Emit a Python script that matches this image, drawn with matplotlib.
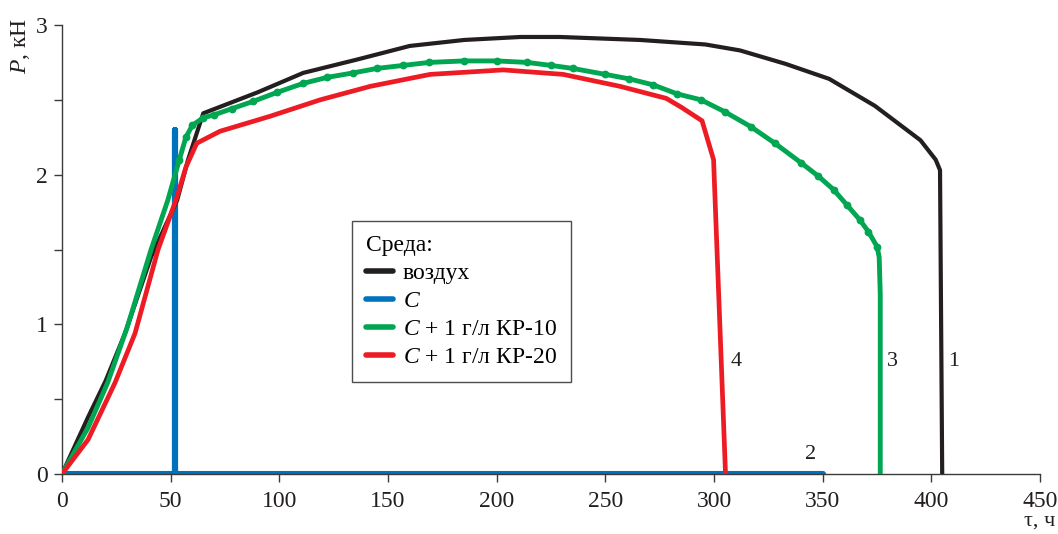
import matplotlib
matplotlib.use("Agg")
import matplotlib.pyplot as plt
from matplotlib.ticker import MultipleLocator

plt.rcParams["font.family"] = ["Liberation Serif", "DejaVu Serif"]
plt.rcParams["mathtext.fontset"] = "custom"
plt.rcParams["mathtext.rm"] = "Liberation Serif"
plt.rcParams["mathtext.it"] = "Liberation Serif:italic"

# Test time (h) and load (kN) for each medium
air_t = [0, 12, 20, 29, 41, 53, 58, 65, 90, 111, 136, 160, 185, 211, 229, 266,
         296, 312, 333, 353, 374, 395, 402, 404, 405]
air_p = [0, 0.38, 0.62, 0.94, 1.45, 1.83, 2.10, 2.41, 2.55, 2.68, 2.77, 2.86,
         2.90, 2.92, 2.92, 2.90, 2.87, 2.83, 2.74, 2.64, 2.46, 2.23, 2.10, 2.03, 0]

c_t = [0, 52, 52, 52, 350]
c_p = [0, 0, 2.30, 0, 0]

kr10_t = [0, 12, 21, 30, 41, 48.7, 54, 57, 60, 65, 70, 78, 88, 99, 111, 122,
          134, 145, 157, 169, 185, 200, 214, 225, 235, 250, 261, 272, 283, 294,
          305, 317, 328, 340, 348, 355, 361, 367, 371, 375, 376, 376.5, 376.5]
kr10_p = [0, 0.31, 0.61, 0.98, 1.50, 1.83, 2.10, 2.25, 2.33, 2.38, 2.40, 2.44,
          2.49, 2.55, 2.61, 2.65, 2.68, 2.71, 2.73, 2.75, 2.76, 2.76, 2.75, 2.73,
          2.71, 2.67, 2.64, 2.60, 2.54, 2.50, 2.42, 2.32, 2.21, 2.08, 1.99, 1.90,
          1.80, 1.70, 1.62, 1.52, 1.45, 1.20, 0]

kr20_t = [0, 12, 24.4, 33.6, 44.2, 52.9, 57, 62, 72.7, 95.7, 118.8, 141.8,
          169.4, 203, 230.6, 256.8, 278, 285, 294.5, 299.8, 305.3]
kr20_p = [0, 0.23, 0.61, 0.94, 1.50, 1.85, 2.05, 2.21, 2.29, 2.39, 2.50, 2.59,
          2.67, 2.70, 2.67, 2.59, 2.51, 2.45, 2.36, 2.10, 0]

legend_title = "Среда:"
labels = ["воздух", r"$\mathit{C}$", r"$\mathit{C}$ + 1 г/л КР-10", r"$\mathit{C}$ + 1 г/л КР-20"]
curve_numbers = ["1", "2", "3", "4"]

col_air = "#231f20"
col_c = "#0072bc"
col_kr10 = "#00a651"
col_kr20 = "#ed1c24"

fig = plt.figure(figsize=(10.58, 5.34), dpi=100)
ax = fig.add_axes([62 / 1058, 1 - 474 / 534, (1040 - 62) / 1058, (474 - 25) / 534])

ax.plot(air_t, air_p, color=col_air, lw=3.0, label=labels[0], zorder=3)
ax.plot(c_t, c_p, color=col_c, lw=4.4, label=labels[1], solid_capstyle="round", zorder=2)
ax.plot(kr10_t, kr10_p, color=col_kr10, lw=3.5, label=labels[2], zorder=4,
        marker="o", markersize=4.6, markevery=list(range(6, 40)))
ax.plot(kr20_t, kr20_p, color=col_kr20, lw=3.4, label=labels[3], zorder=5)

ax.set_xlim(0, 450)
ax.set_ylim(0, 3)
ax.xaxis.set_major_locator(MultipleLocator(50))
ax.yaxis.set_major_locator(MultipleLocator(1))
ax.yaxis.set_minor_locator(MultipleLocator(0.5))
for s in ["top", "right"]:
    ax.spines[s].set_visible(False)
for s in ["left", "bottom"]:
    ax.spines[s].set_color("#3a3a3a")
    ax.spines[s].set_linewidth(1.0)
ax.tick_params(which="both", direction="out", length=6, width=1.0, color="#3a3a3a",
               labelsize=17, labelcolor="#231f20")
ax.tick_params(axis="x", pad=6)
ax.tick_params(axis="y", pad=4)

# curve numbers
ax.text(407.8, 0.75, curve_numbers[0], fontsize=16, ha="left", va="center", color="#231f20")
ax.text(344.3, 0.13, curve_numbers[1], fontsize=16, ha="center", va="center", color="#231f20")
ax.text(379.7, 0.75, curve_numbers[2], fontsize=16, ha="left", va="center", color="#231f20")
ax.text(307.6, 0.75, curve_numbers[3], fontsize=16, ha="left", va="center", color="#231f20")

# axis titles
fig.text(20 / 1058, 1 - 46 / 534, r"$P$, кН", fontsize=17, rotation=90,
         ha="center", va="center", color="#231f20")
fig.text(1055 / 1058, 1 - 531 / 534, "τ, ч", fontsize=16, ha="right", va="bottom",
         color="#231f20")

leg = ax.legend(title=legend_title, loc="upper left",
                bbox_to_anchor=(352 / 1058, 1 - 221 / 534), bbox_transform=fig.transFigure,
                borderaxespad=0, fontsize=17, title_fontsize=17, frameon=True,
                fancybox=False, edgecolor="#231f20", handlelength=1.15, handletextpad=0.4,
                labelspacing=0.27, borderpad=0.6, alignment="left")
leg.get_frame().set_linewidth(1.0)
for h in leg.legend_handles:
    h.set_linewidth(4)
    h.set_marker("")
    h.set_solid_capstyle("round")

fig.savefig("out.png", dpi=100)
